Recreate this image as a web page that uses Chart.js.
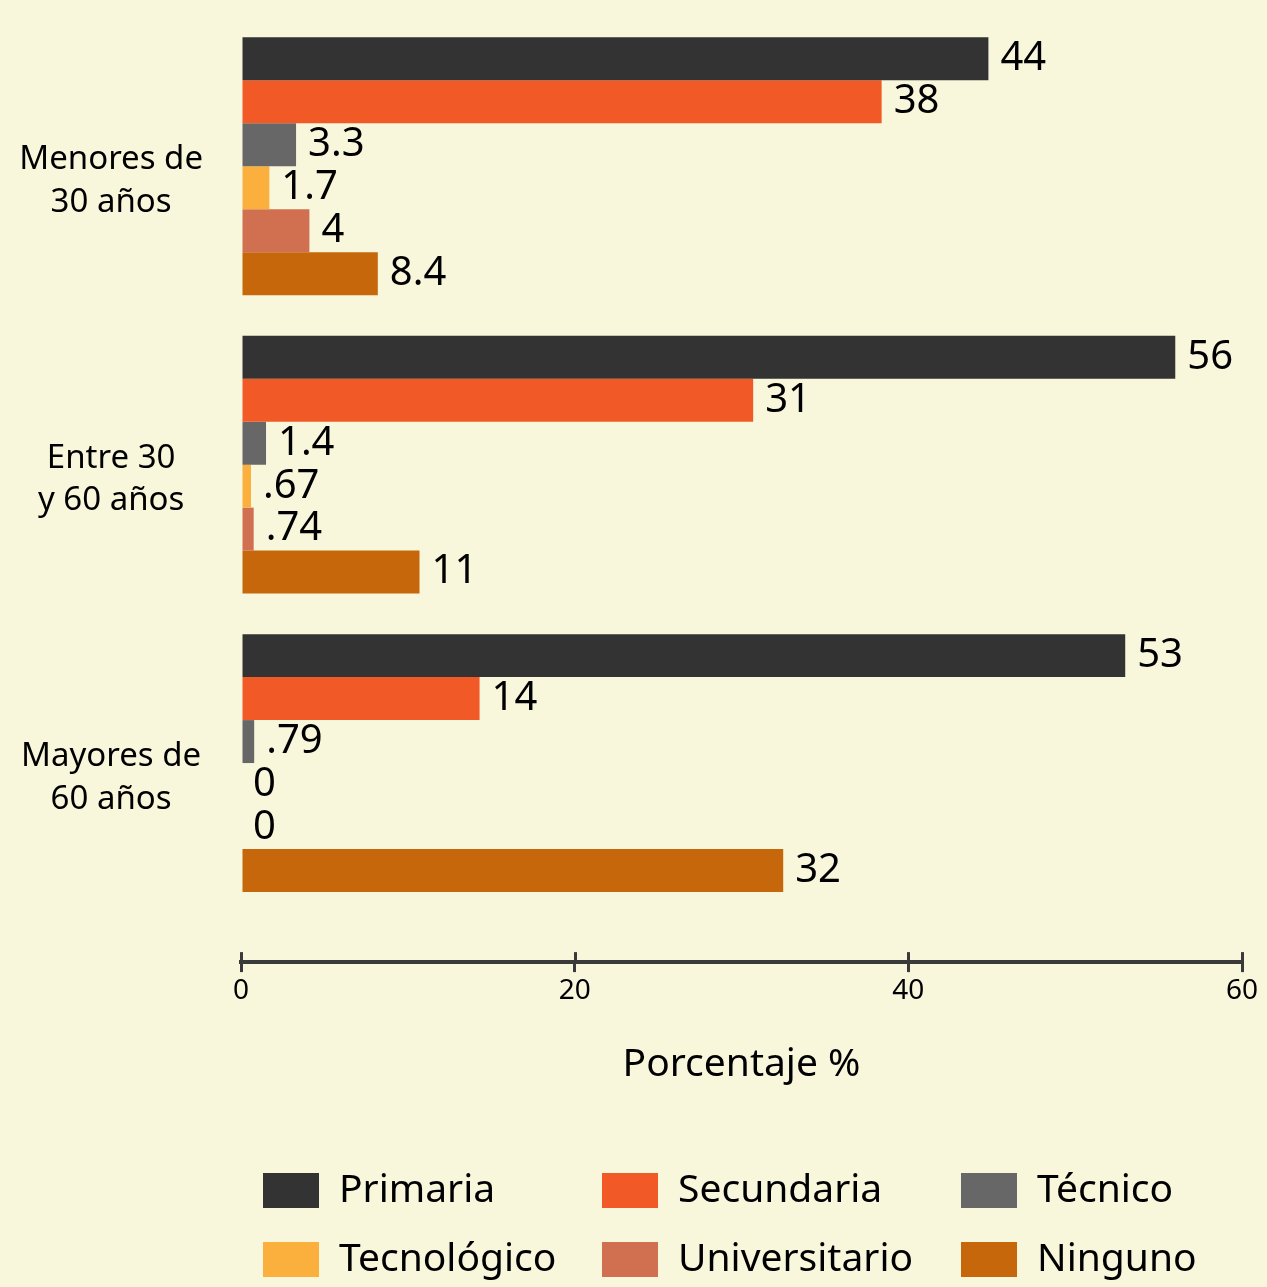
<!DOCTYPE html>
<html><head><meta charset="utf-8">
<script src="https://cdn.jsdelivr.net/npm/chart.js@4.4.1/dist/chart.umd.min.js"></script>
<style>html,body{margin:0;padding:0;background:#f8f7dc;} canvas{display:block;}</style>
</head><body>
<canvas id="c" width="1267" height="1287"></canvas>
<script>
// ---- data ----
const categories = [["Menores de", "30 años"], ["Entre 30", "y 60 años"], ["Mayores de", "60 años"]];
const seriesNames = ["Primaria", "Secundaria", "Técnico", "Tecnológico", "Universitario", "Ninguno"];
const primaria      = [44.8, 56.0, 53.0];
const secundaria    = [38.4, 30.7, 14.3];
const tecnico       = [3.3, 1.5, 0.79];
const tecnologico   = [1.7, 0.6, 0];
const universitario = [4.1, 0.76, 0];
const ninguno       = [8.2, 10.7, 32.5];
// printed value labels as they appear on the chart
const primariaTxt      = ["44", "56", "53"];
const secundariaTxt    = ["38", "31", "14"];
const tecnicoTxt       = ["3.3", "1.4", ".79"];
const tecnologicoTxt   = ["1.7", ".67", "0"];
const universitarioTxt = ["4", ".74", "0"];
const ningunoTxt       = ["8.4", "11", "32"];
const xTicks = [0, 20, 40, 60];
const xTitle = "Porcentaje %";

// ---- styles ----
const FONT = "'Noto Sans', 'Open Sans', sans-serif";
const colors = ["#333333", "#f15a27", "#676767", "#fbaf3c", "#d07050", "#c5670a"];
const seriesValues = [primaria, secundaria, tecnico, tecnologico, universitario, ninguno];
const seriesTexts = [primariaTxt, secundariaTxt, tecnicoTxt, tecnologicoTxt, universitarioTxt, ningunoTxt];

const datasets = seriesNames.map((name, d) => ({
  label: name,
  data: seriesValues[d].map((v, i) => ({ x: v, y: i })),
  backgroundColor: colors[d],
  borderWidth: 0,
  categoryPercentage: 0.864,
  barPercentage: 1.0
}));

const bgPlugin = {
  id: 'bg',
  beforeDraw(chart) {
    const ctx = chart.ctx;
    ctx.save();
    ctx.fillStyle = '#f8f7dc';
    ctx.fillRect(0, 0, chart.width, chart.height);
    ctx.restore();
  }
};

const valueLabelPlugin = {
  id: 'valueLabels',
  afterDatasetsDraw(chart) {
    const ctx = chart.ctx;
    ctx.save();
    ctx.font = `40px ${FONT}`;
    ctx.fillStyle = '#000';
    ctx.textAlign = 'left';
    ctx.textBaseline = 'middle';
    chart.data.datasets.forEach((ds, d) => {
      const meta = chart.getDatasetMeta(d);
      meta.data.forEach((el, i) => {
        ctx.fillText(seriesTexts[d][i], el.x + 12, el.y);
      });
    });
    ctx.restore();
  }
};

const tickUpPlugin = {
  id: 'tickUp',
  afterDraw(chart) {
    const s = chart.scales.x;
    const ctx = chart.ctx;
    ctx.save();
    ctx.strokeStyle = '#3a3a3a';
    ctx.lineWidth = 3;
    s.ticks.forEach(t => {
      const px = Math.round(s.getPixelForValue(t.value)) + 0.5;
      ctx.beginPath();
      ctx.moveTo(px, s.top - 10);
      ctx.lineTo(px, s.top);
      ctx.stroke();
    });
    ctx.restore();
  }
};

const gridLegendPlugin = {
  id: 'gridLegend',
  afterDraw(chart) {
    const ctx = chart.ctx;
    const colX = [263, 602, 961];
    const rowY = [1173, 1242];
    ctx.save();
    ctx.font = `39px ${FONT}`;
    ctx.textAlign = 'left';
    ctx.textBaseline = 'middle';
    chart.data.datasets.forEach((ds, d) => {
      const x = colX[d % 3], y = rowY[Math.floor(d / 3)];
      ctx.fillStyle = ds.backgroundColor;
      ctx.fillRect(x, y, 56, 35);
      ctx.fillStyle = '#000';
      ctx.fillText(ds.label, x + 76, y + 17.5);
    });
    ctx.restore();
  }
};

new Chart(document.getElementById('c'), {
  type: 'bar',
  data: { datasets },
  options: {
    responsive: false,
    animation: false,
    indexAxis: 'y',
    layout: { padding: { top: 17, right: 25, bottom: 198.5, left: 0 } },
    plugins: { legend: { display: false }, tooltip: { enabled: false } },
    scales: {
      y: {
        type: 'linear',
        reverse: true,
        offset: false,
        min: -0.5,
        max: 2.667,
        afterBuildTicks: s => { s.ticks = categories.map((c, i) => ({ value: i })); },
        afterFit: s => { s.width = 241; s.paddingTop = 0; s.paddingBottom = 0; },
        grid: { display: false },
        border: { display: false },
        ticks: {
          callback: v => categories[v],
          font: { family: FONT, size: 33, lineHeight: 1.3 },
          color: '#000',
          crossAlign: 'center',
          padding: 30,
          labelOffset: 15,
          autoSkip: false
        }
      },
      x: {
        type: 'linear',
        position: 'bottom',
        min: 0,
        max: 60,
        afterBuildTicks: s => { s.ticks = xTicks.map(v => ({ value: v })); },
        grid: { drawOnChartArea: false, drawTicks: true, tickLength: 10, color: '#3a3a3a', lineWidth: 3 },
        border: { display: true, color: '#3a3a3a', width: 4 },
        ticks: { font: { family: FONT, size: 28 }, color: '#000', padding: 2 },
        title: { display: true, text: xTitle, font: { family: FONT, size: 39 }, color: '#000', padding: { top: 32, bottom: 0 } }
      }
    }
  },
  plugins: [bgPlugin, valueLabelPlugin, tickUpPlugin, gridLegendPlugin]
});
</script>
</body></html>
